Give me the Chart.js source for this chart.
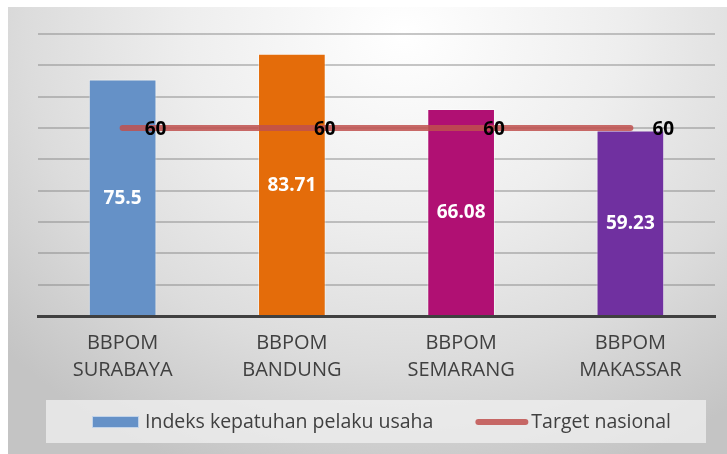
<!DOCTYPE html>
<html>
<head>
<meta charset="utf-8">
<script src="https://cdn.jsdelivr.net/npm/chart.js@4.4.1/dist/chart.umd.min.js"></script>
<style>
  html, body { margin: 0; padding: 0; background: #ffffff; }
  body { width: 727px; height: 454px; position: relative; overflow: hidden; }
  #wrap {
    position: absolute; left: 8px; top: 7px; width: 719px; height: 447px;
    background: radial-gradient(ellipse 75% 105% at 55% 6%, #ffffff 0%, #eeeeee 40%, #dcdcdc 70%, #c4c4c4 100%);
  }
</style>
</head>
<body>
<div id="wrap"><canvas id="chart"></canvas></div>
<script>
// data
const categories = [['BBPOM', 'SURABAYA'], ['BBPOM', 'BANDUNG'], ['BBPOM', 'SEMARANG'], ['BBPOM', 'MAKASSAR']];
const indeksValues = [75.5, 83.71, 66.08, 59.23];
const targetValues = [60, 60, 60, 60];
const barColors = ['#6591c7', '#e46c0a', '#b01073', '#7030a0'];
const seriesNames = ['Indeks kepatuhan pelaku usaha', 'Target nasional'];

const FONT = "'Open Sans', 'Noto Sans', sans-serif";

// value labels (no datalabels plugin available offline)
const valueLabels = {
    id: 'valueLabels',
    afterDatasetsDraw(chart) {
        const ctx = chart.ctx;
        ctx.save();
        ctx.textBaseline = 'middle';

        const barMeta = chart.getDatasetMeta(0);
        ctx.fillStyle = '#ffffff';
        ctx.textAlign = 'center';
        ctx.font = 'bold 19px ' + FONT;
        barMeta.data.forEach((el, i) => {
            ctx.fillText(String(indeksValues[i]), el.x, (el.y + el.base) / 2 + 1);
        });

        const lineMeta = chart.getDatasetMeta(1);
        ctx.fillStyle = '#000000';
        ctx.textAlign = 'left';
        ctx.font = 'bold 19px ' + FONT;
        lineMeta.data.forEach((el, i) => {
            ctx.fillText(String(targetValues[i]), el.x + 22, el.y + 2);
        });
        ctx.restore();
    }
};

// legend in a light box under the axis labels
const boxLegend = {
    id: 'boxLegend',
    afterDraw(chart) {
        const ctx = chart.ctx;
        const area = chart.chartArea;
        const left = area.left + 8;
        const right = area.right - 9;
        const top = chart.height - 54;
        const bottom = chart.height - 11;
        const midY = top + 22;

        ctx.save();
        ctx.fillStyle = 'rgba(240,240,240,0.75)';
        ctx.fillRect(left, top, right - left, bottom - top);

        ctx.font = '19.5px ' + FONT;
        ctx.fillStyle = '#404040';
        ctx.textBaseline = 'middle';
        ctx.textAlign = 'left';

        let x = left + 46;
        ctx.fillStyle = barColors[0];
        ctx.fillRect(x, midY - 6, 47, 12);
        ctx.strokeStyle = 'rgba(255,255,255,0.6)';
        ctx.lineWidth = 1;
        ctx.strokeRect(x + 0.5, midY - 5.5, 46, 11);
        x += 53;
        ctx.fillStyle = '#404040';
        ctx.fillText(chart.data.datasets[0].label, x, midY);
        x += ctx.measureText(chart.data.datasets[0].label).width + 42;

        ctx.strokeStyle = 'rgba(192,80,77,0.85)';
        ctx.lineWidth = 6;
        ctx.lineCap = 'round';
        ctx.beginPath();
        ctx.moveTo(x + 3, midY);
        ctx.lineTo(x + 50, midY);
        ctx.stroke();
        x += 56;
        ctx.fillText(chart.data.datasets[1].label, x, midY);
        ctx.restore();
    }
};

const ctx = document.getElementById('chart').getContext('2d');

new Chart(ctx, {
    type: 'bar',
    data: {
        labels: categories,
        datasets: [
            {
                label: seriesNames[0],
                data: indeksValues,
                backgroundColor: barColors,
                borderColor: 'rgba(255,255,255,0.45)',
                borderWidth: 1,
                barPercentage: 0.8,
                categoryPercentage: 0.5,
                order: 1
            },
            {
                label: seriesNames[1],
                type: 'line',
                data: targetValues,
                borderColor: 'rgba(192,80,77,0.85)',
                borderWidth: 6,
                borderCapStyle: 'round',
                pointRadius: 0,
                fill: false,
                order: 0
            }
        ]
    },
    options: {
        responsive: true,
        maintainAspectRatio: false,
        animation: false,
        layout: {
            padding: { left: 30, right: 12, top: 27, bottom: 56 }
        },
        scales: {
            x: {
                grid: { display: false, drawTicks: false },
                border: { display: true, color: '#404040', width: 3 },
                ticks: {
                    color: '#404040',
                    padding: 14,
                    font: { family: FONT, size: 20, lineHeight: 1.35 }
                }
            },
            y: {
                min: 0,
                max: 90,
                ticks: { display: false, stepSize: 10 },
                grid: { color: 'rgba(130,130,130,0.45)', lineWidth: 2, drawTicks: false },
                border: { display: false }
            }
        },
        plugins: {
            legend: { display: false },
            tooltip: { enabled: false }
        }
    },
    plugins: [valueLabels, boxLegend]
});
</script>
</body>
</html>
